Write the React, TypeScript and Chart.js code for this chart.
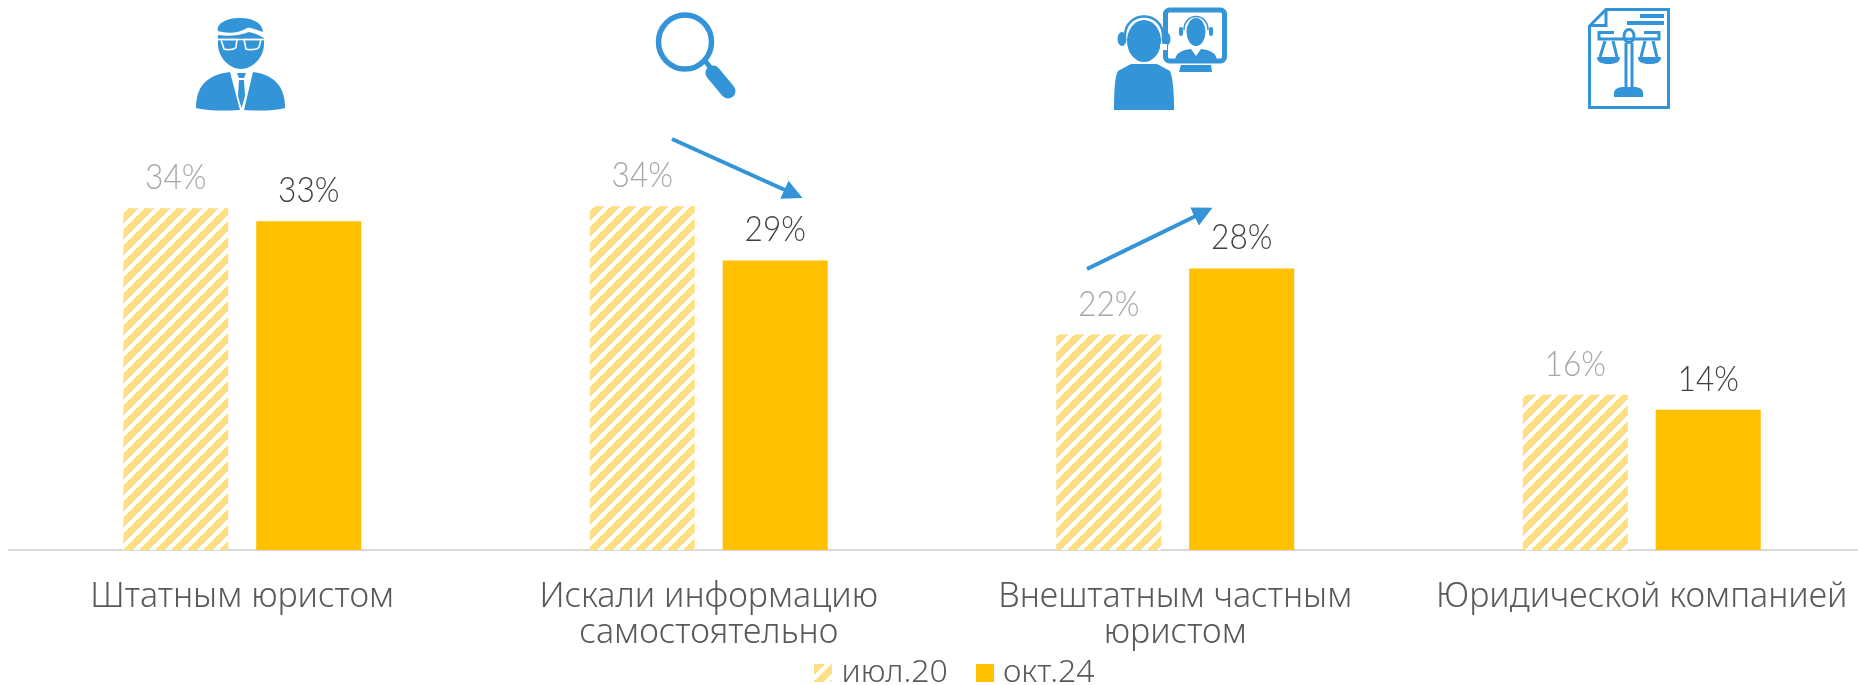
import React, { useEffect, useRef } from "react";
import { Chart, registerables } from "chart.js";

Chart.register(...registerables);

const categories = [
  "Штатным юристом",
  ["Искали информацию", "самостоятельно"],
  ["Внештатным частным", "юристом"],
  "Юридической компанией",
];
const july20 = [34.1, 34.3, 21.5, 15.5];
const october24 = [32.8, 28.9, 28.1, 14.0];
const seriesNames = ["июл.20", "окт.24"];

const FONT = '"Noto Sans"';
const BLUE = "#3494D8";

function makeHatch(ctx: CanvasRenderingContext2D) {
  const size = 16;
  const c = document.createElement("canvas");
  c.width = size;
  c.height = size;
  const g = c.getContext("2d")!;
  g.fillStyle = "#ffffff";
  g.fillRect(0, 0, size, size);
  g.fillStyle = "#FFDF85";
  for (let y = 0; y < size; y += 2) {
    for (let x = 0; x < size; x += 2) {
      if ((x + y) % size < 10) g.fillRect(x, y, 2, 2);
    }
  }
  return ctx.createPattern(c, "repeat")!;
}

function makeSwatch(fill: any) {
  const c = document.createElement("canvas");
  c.width = 18;
  c.height = 18;
  const g = c.getContext("2d")!;
  g.fillStyle = fill;
  g.fillRect(0, 0, 18, 18);
  return c;
}

const valueLabels = {
  id: "valueLabels",
  afterDatasetsDraw(chart: any) {
    const { ctx } = chart;
    const colours = ["#A6A6A6", "#404040"];
    ctx.save();
    ctx.font = `300 36px Lato`;
    ctx.textAlign = "center";
    ctx.textBaseline = "alphabetic";
    chart.data.datasets.forEach((ds: any, d: number) => {
      ctx.fillStyle = colours[d];
      chart.getDatasetMeta(d).data.forEach((bar: any, i: number) => {
        ctx.save();
        ctx.translate(bar.x, bar.y - 19);
        ctx.scale(0.88, 1);
        ctx.fillText(`${Math.round(ds.data[i])}%`, 0, 0);
        ctx.restore();
      });
    });
    ctx.restore();
  },
};

const legendPlace = {
  id: "legendPlace",
  afterLayout(chart: any) {
    const l = chart.legend;
    l.left += 16;
    l.right += 16;
    const h = l.bottom - l.top;
    l.top = 622;
    l.bottom = l.top + h;
  },
};

function Icons() {
  return (
    <svg
      width={1858}
      height={685}
      style={{ position: "absolute", left: 0, top: 0, pointerEvents: "none" }}
    >
      <defs>
        <marker id="head" markerWidth="5" markerHeight="5" refX="3.2" refY="2.5" orient="auto">
          <path d="M0 0L5 2.5L0 5Z" fill={BLUE} />
        </marker>
      </defs>
      {/* arrows */}
      <line x1={672} y1={139} x2={796} y2={195} stroke={BLUE} strokeWidth={4} markerEnd="url(#head)" />
      <line x1={1087} y1={269} x2={1206} y2={211} stroke={BLUE} strokeWidth={4} markerEnd="url(#head)" />

      {/* lawyer */}
      <g fill={BLUE}>
        <path d="M218 31 C216 24 226 18 240 18 C250 18 262 21 263 32 C256 30 250 27 247 28 C240 33 228 34 218 31 Z" />
        <path d="M218 35 C230 37 241 35 249 32 C254 33 259 35 264 38 L264 44 C264 58 252 69 241 69 C230 69 218 58 218 44 Z" />
        <path d="M230 72 L240 110 C225 111 208 111 196 108 C196 88 205 75 230 72 Z" />
        <path d="M253 72 L244 110 C258 111 274 111 285 108 C285 88 276 75 253 72 Z" />
        <path d="M237 73 H246 L244 78 H239 Z" />
        <path d="M239 80 H244 L245 96 L241.5 108 L238 96 Z" />
      </g>
      <g fill="none" stroke="#fff" strokeWidth={1.6}>
        <path d="M218 39.5 H264" />
        <path d="M221 39.5 H237 L236 47 C235 50 226 50 224 49 Z" />
        <path d="M244 39.5 H261 L259 47 C258 50 248 50 246 49 Z" />
      </g>

      {/* magnifier */}
      <g stroke={BLUE} fill="none" strokeLinecap="round">
        <ellipse cx={685} cy={42} rx={26.5} ry={27} strokeWidth={5.5} />
        <line x1={706} y1={62} x2={713} y2={71} strokeWidth={5} />
        <line x1={713} y1={73} x2={728} y2={91} strokeWidth={15} />
      </g>

      {/* call centre */}
      <g fill={BLUE}>
        <ellipse cx={1144} cy={41} rx={17} ry={21} />
        <path d="M1114 110 C1114 90 1115 75 1118 71 L1131 64 H1157 L1170 71 C1173 78 1174 92 1174 110 Z" />
        <ellipse cx={1122} cy={39} rx={4.5} ry={7} />
        <ellipse cx={1166} cy={39} rx={4.5} ry={7} />
        <path d="M1181 65 H1211 L1212 72 H1179 Z" />
        <ellipse cx={1196} cy={32} rx={9.5} ry={14} />
        <path d="M1175 60 C1176 52 1183 50 1191 49 L1196 56 L1201 49 C1209 50 1216 52 1217 60 Z" />
        <rect x={1179} y={27} width={4} height={9} rx={2} />
        <rect x={1209} y={27} width={4} height={9} rx={2} />
      </g>
      <path d="M1125 36 C1125 10 1163 10 1163 36" fill="none" stroke={BLUE} strokeWidth={2.5} />
      <path d="M1184 30 C1184 12 1208 12 1208 30" fill="none" stroke={BLUE} strokeWidth={1.5} />
      <rect x={1165.5} y={10} width={59} height={51} rx={4} fill="none" stroke={BLUE} strokeWidth={5} />
      <rect x={1160} y={44} width={7} height={6} fill="#fff" />

      {/* legal document */}
      <g fill="none" stroke={BLUE} strokeWidth={3}>
        <path d="M1606 9.5 H1668.5 V107.5 H1589.5 V26 Z" />
        <path d="M1606 9.5 V25.5 H1589.5" />
        <path d="M1614 32.5 H1599 V39 H1659 V32.5 H1644" />
        <ellipse cx={1629} cy={36} rx={5} ry={6.5} />
        <path d="M1626 43 V87 M1632 43 V87" />
        <path d="M1605 41 L1600 57 M1613 41 L1617 57" />
        <path d="M1645 41 L1641 57 M1653 41 L1657 57" />
      </g>
      <g fill={BLUE}>
        <rect x={1640} y={14} width={24} height={4} />
        <rect x={1627} y={21} width={37} height={4} />
        <path d="M1597 57 H1620 C1620 62 1616 64 1608.5 64 C1601 64 1597 62 1597 57 Z" />
        <path d="M1638 57 H1661 C1661 62 1657 64 1649.5 64 C1642 64 1638 62 1638 57 Z" />
        <path d="M1614 97 V93 C1614 89 1619 87 1623 87 H1634 C1639 87 1643 89 1643 93 V97 Z" />
      </g>
    </svg>
  );
}

export default function App() {
  const ref = useRef<HTMLCanvasElement>(null);
  useEffect(() => {
    const ctx = ref.current!.getContext("2d")!;
    const hatch = makeHatch(ctx);
    const swatches = [makeSwatch(hatch), makeSwatch("#FFC000")];
    const chart = new Chart(ctx, {
      type: "bar",
      data: {
        labels: categories as any,
        datasets: [
          { label: seriesNames[0], data: july20, backgroundColor: hatch as any, categoryPercentage: 0.57, barPercentage: 0.79 },
          { label: seriesNames[1], data: october24, backgroundColor: "#FFC000", categoryPercentage: 0.57, barPercentage: 0.79 },
        ],
      },
      plugins: [valueLabels, legendPlace],
      options: {
        animation: false,
        responsive: false,
        devicePixelRatio: 1,
        layout: { padding: { left: 9, right: 34, top: 49, bottom: 8 } },
        plugins: {
          tooltip: { enabled: false },
          legend: {
            position: "bottom",
            labels: {
              usePointStyle: true,
              pointStyleWidth: 4,
              boxHeight: 18,
              padding: 35,
              color: "#595959",
              font: { family: FONT, size: 32, weight: 300 as any },
              generateLabels(c: any) {
                return (Chart.defaults.plugins.legend.labels as any)
                  .generateLabels(c)
                  .map((item: any, i: number) => ({ ...item, pointStyle: swatches[i] }));
              },
            },
          },
        },
        scales: {
          y: { display: false, min: 0, max: 50 },
          x: {
            afterFit(scale: any) {
              scale.height = 105;
            },
            grid: { display: false },
            border: { color: "#D9D9D9", width: 2 },
            ticks: {
              color: "#595959",
              autoSkip: false,
              maxRotation: 0,
              padding: 21,
              font: { family: FONT, size: 34, weight: 300 as any, lineHeight: 1.06 },
            },
          },
        },
      },
    });
    return () => chart.destroy();
  }, []);
  return (
    <div style={{ position: "fixed", left: 0, top: 0, width: 1858, height: 685, overflow: "hidden", background: "#fff" }}>
      <canvas ref={ref} width={1909} height={740} style={{ display: "block", width: 1909, height: 740 }} />
      <Icons />
    </div>
  );
}
